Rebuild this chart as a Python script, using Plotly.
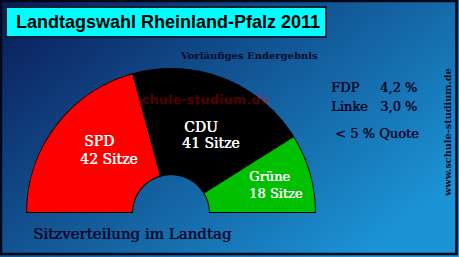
import base64
import plotly.graph_objects as go

# ---- data ----
parties = ["SPD", "CDU", "Grüne"]
seats = [42, 41, 18]
colors = ["#ff0000", "#000000", "#00c000"]
small_parties = ["FDP", "Linke"]
small_pct = [4.2, 3.0]
title = "Landtagswahl Rheinland-Pfalz 2011"
subtitle = "Vorläufiges Endergebnis"
quote_note = "< 5 % Quote"
caption = "Sitzverteilung im Landtag"
site = "www.schule-studium.de"
watermark = "schule-studium.de"

W, H = 459, 257
def px(x):
    return x / W
def py(y):
    return 1 - y / H

total = sum(seats)
theta, width = [], []
start = 180.0
for s in seats:
    span = 180.0 * s / total
    theta.append(start - span / 2)
    width.append(span)
    start -= span

fig = go.Figure()
fig.add_trace(go.Barpolar(
    r=[1] * len(seats), theta=theta, width=width,
    marker=dict(color=colors, line=dict(color="#000000", width=2)),
    hoverinfo="skip", showlegend=False,
))

svg = ('<svg xmlns="http://www.w3.org/2000/svg" width="459" height="257">'
       '<defs><linearGradient id="g" x1="0" y1="0" x2="1" y2="0.7">'
       '<stop offset="0" stop-color="#0a1a56"/>'
       '<stop offset="1" stop-color="#1b93d4"/>'
       '</linearGradient></defs>'
       '<rect width="459" height="257" fill="url(#g)"/></svg>')
src = "data:image/svg+xml;base64," + base64.b64encode(svg.encode()).decode()

shapes = [
    dict(type="rect", xref="paper", yref="paper", x0=px(1), x1=px(456.5),
         y0=py(254), y1=py(1), line=dict(color="#000818", width=2.5)),
    dict(type="rect", xref="paper", yref="paper", x0=px(6), x1=px(326),
         y0=py(37), y1=py(7), fillcolor="#00ffff",
         line=dict(color="#0a1f3a", width=2), layer="below"),
]

ann = []
def A(text, x, y, size, color, family, xa="left", ya="middle", angle=0, heavy=False):
    font = dict(size=size, color=color, family=family)
    if heavy:
        font["shadow"] = f"0.5px 0px 0px {color}"
    ann.append(dict(text=text, x=px(x), y=py(y), xref="paper", yref="paper",
                    xanchor=xa, yanchor=ya, showarrow=False, textangle=angle,
                    align="left", font=font))

A("<b>" + title + "</b>", 14, 22, 18, "#000000", "Liberation Sans")
A("<b>" + subtitle + "</b>", 178, 55, 10, "#0a0a28", "DejaVu Serif")
A("<b>" + watermark + "</b>", 202, 100, 13, "rgba(255,0,0,0.33)", "DejaVu Sans", xa="center")

label_pos = [((82, 141), (78, 159)), ((182, 127), (180, 143))]
for p, s, (npos, spos) in zip(parties[:2], seats[:2], label_pos):
    A(p, npos[0], npos[1], 14, "#ffffff", "DejaVu Serif", heavy=True)
    A(f"{s} Sitze", spos[0], spos[1], 14, "#ffffff", "DejaVu Serif", heavy=True)
A(f"{parties[2]}<br>{seats[2]} Sitze", 247, 185, 13, "#ffffff", "DejaVu Serif", heavy=True)

for i, (p, v) in enumerate(zip(small_parties, small_pct)):
    y = 87 + i * 19
    A(p, 329, y, 13, "#0a0a28", "DejaVu Serif", heavy=True)
    A(f"{v:.1f}".replace(".", ",") + " %", 378, y, 13, "#0a0a28", "DejaVu Serif", heavy=True)
A(quote_note, 333, 133, 13, "#0a0a28", "DejaVu Serif", heavy=True)
A(caption, 31, 234, 15, "#0a0a28", "DejaVu Serif", heavy=True)
A("<b>" + site + "</b>", 447, 133, 9.7, "#0a0a28", "DejaVu Serif", xa="center", angle=-90)

fig.update_layout(
    width=W, height=H, margin=dict(l=0, r=0, t=0, b=0),
    paper_bgcolor="#0f5aa5", plot_bgcolor="rgba(0,0,0,0)",
    images=[dict(source=src, xref="paper", yref="paper", x=0, y=1,
                 sizex=1, sizey=1, sizing="stretch", layer="below")],
    shapes=shapes, annotations=ann,
    polar=dict(
        domain=dict(x=[px(26), px(316)], y=[py(213), py(68)]),
        sector=[0, 180], hole=38 / 145, bargap=0,
        bgcolor="rgba(0,0,0,0)",
        radialaxis=dict(visible=False, range=[0, 1]),
        angularaxis=dict(visible=False, direction="counterclockwise", rotation=0),
    ),
)

fig.write_html("out.html")
